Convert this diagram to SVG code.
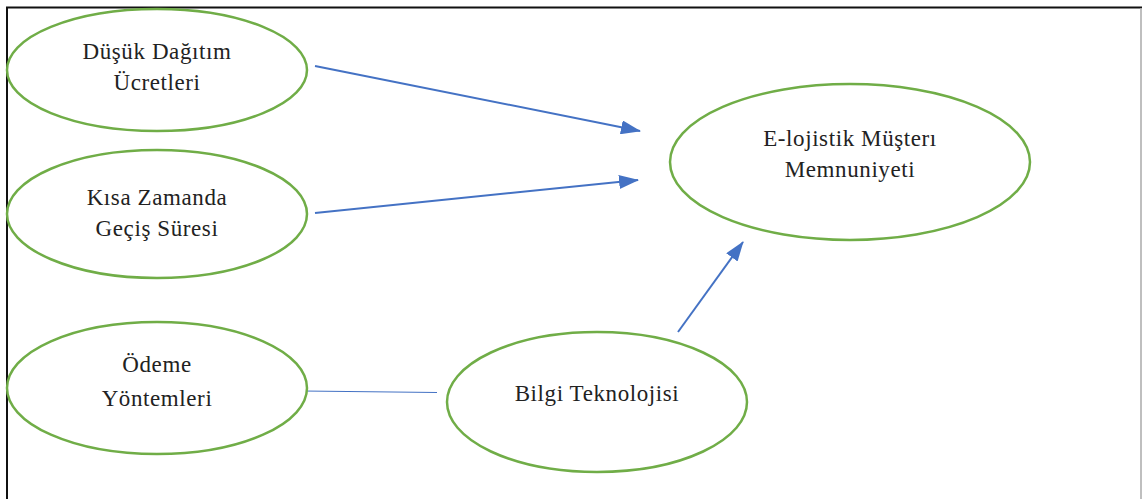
<svg xmlns="http://www.w3.org/2000/svg" width="1142" height="499" viewBox="0 0 1142 499">
<style>
.node{fill:#fff;stroke:#70AD47;stroke-width:2.5}
.t{font-family:"Liberation Serif","Times New Roman",serif;font-size:23px;letter-spacing:0.6px;fill:#222;text-anchor:middle}
.c{stroke:#4472C4;stroke-width:2;fill:none}
</style>
<defs>
<marker id="a" viewBox="0 0 20 14" refX="19" refY="7" markerWidth="20" markerHeight="14" markerUnits="userSpaceOnUse" orient="auto">
<path d="M0,0 L20,7 L0,14 z" fill="#4472C4"/>
</marker>
</defs>
<rect x="0" y="0" width="1142" height="499" fill="#fff"/>
<g id="frame">
<line x1="6" y1="7.5" x2="1142" y2="7.5" stroke="#111" stroke-width="2"/>
<line x1="7" y1="7" x2="7" y2="499" stroke="#111" stroke-width="2"/>
<line x1="1141" y1="8" x2="1141" y2="499" stroke="#aaa" stroke-width="1.5"/>
</g>
<g id="connectors">
<line class="c" x1="315" y1="66" x2="640" y2="131" marker-end="url(#a)"/>
<line class="c" x1="315" y1="213" x2="638" y2="180" marker-end="url(#a)"/>
<line class="c" x1="678" y1="332" x2="743" y2="242" marker-end="url(#a)"/>
<line x1="303" y1="391" x2="437" y2="392.5" stroke="#4472C4" stroke-width="1.2"/>
</g>
<g id="n1">
<ellipse class="node" cx="157" cy="70" rx="150" ry="61"/>
<text class="t" x="157" y="59">Düşük Dağıtım</text>
<text class="t" x="157" y="90">Ücretleri</text>
</g>
<g id="n2">
<ellipse class="node" cx="157" cy="214" rx="150" ry="64"/>
<text class="t" x="157" y="205">Kısa Zamanda</text>
<text class="t" x="157" y="236">Geçiş Süresi</text>
</g>
<g id="n3">
<ellipse class="node" cx="157" cy="388" rx="150" ry="66"/>
<text class="t" x="157" y="372">Ödeme</text>
<text class="t" x="157" y="406">Yöntemleri</text>
</g>
<g id="n4">
<ellipse class="node" cx="597" cy="402" rx="150" ry="70"/>
<text class="t" x="597" y="401">Bilgi Teknolojisi</text>
</g>
<g id="n5">
<ellipse class="node" cx="850" cy="162" rx="180" ry="78"/>
<text class="t" x="850" y="146">E-lojistik Müşterı</text>
<text class="t" x="850" y="177">Memnuniyeti</text>
</g>
</svg>
